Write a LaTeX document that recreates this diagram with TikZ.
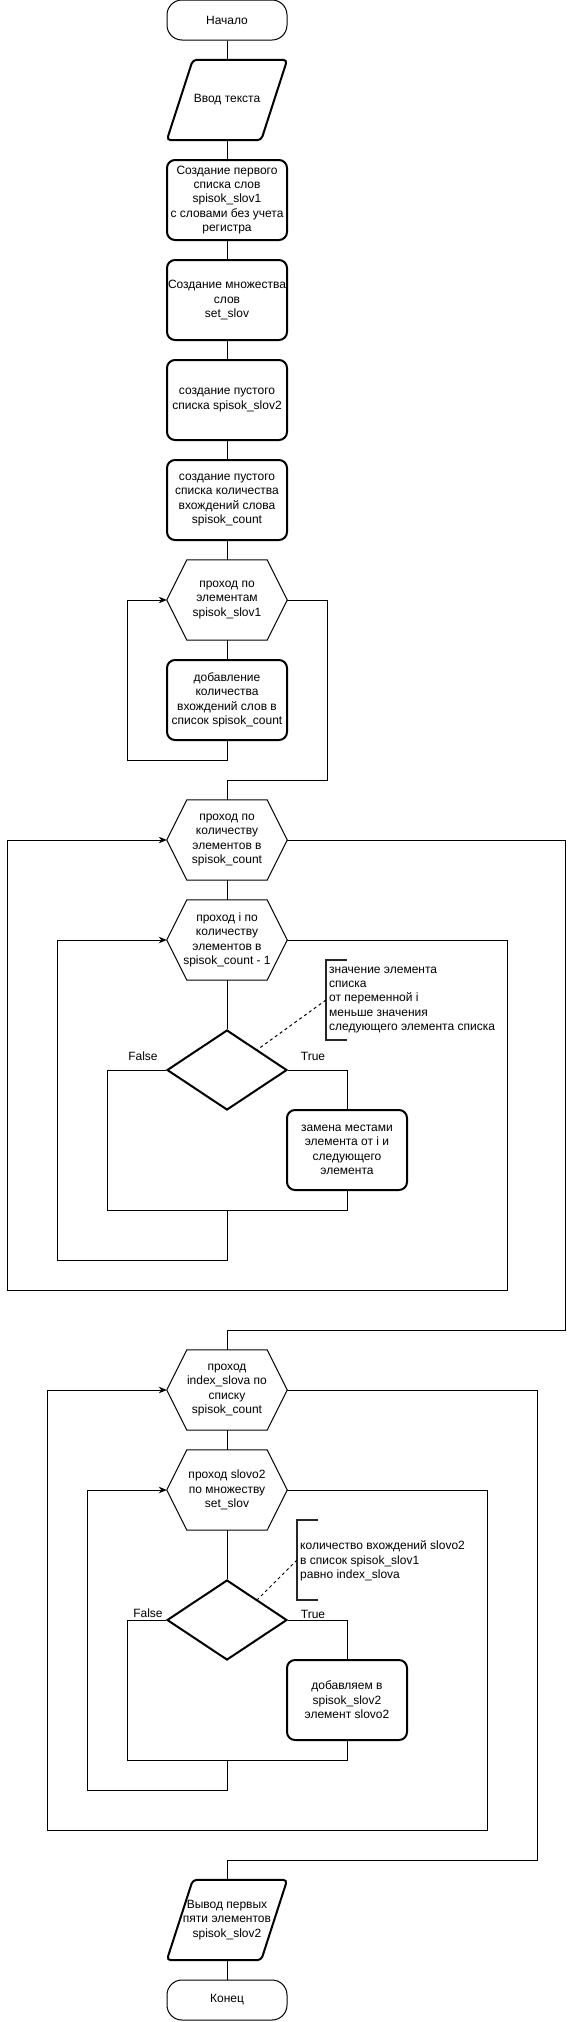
\documentclass[tikz,border=0pt]{standalone}
\usepackage{fontspec}
\setmainfont{Liberation Sans}
\usetikzlibrary{shapes.geometric, arrows.meta}
\tikzset{>={Stealth[length=8pt, width=6.5pt, inset=2.5pt]}}
\tikzset{
	base/.style={font=\fontsize{12pt}{14.4pt}\selectfont, align=center, inner sep=1pt},
	termbox/.style={base, draw, line width=1pt, rounded corners=15pt,
		minimum width=120pt, minimum height=40pt},
	procbox/.style={base, draw, line width=2pt, rounded corners=8pt, inner sep=0pt,
		minimum width=120pt, minimum height=80pt},
	iobox/.style={base, inner sep=0pt, minimum width=120pt, minimum height=80pt},
	ioline/.style={line width=2pt, rounded corners=4pt},
	loopbox/.style={base, inner sep=0pt, minimum width=120pt, minimum height=80pt},
	loopline/.style={line width=1pt},
	decbox/.style={draw, line width=2pt, diamond, inner sep=0pt,
		minimum width=120pt, minimum height=80pt},
	notetext/.style={base, align=left, anchor=west},
	bracket/.style={line width=2pt, black!85},
	line/.style={line width=1pt},
}

\begin{document}
\begin{tikzpicture}[x=1pt, y=-1pt]
\useasboundingbox (0,0) rectangle (569,2022);
% blocks of the main chain
	\node[termbox] (start) at (227,20) {Начало};
	\node[iobox] (input) at (227,100) {Ввод текста};
	\node[procbox] (list1) at (227,200) {Создание первого\\списка слов\\spisok\_slov1\\с словами без учета\\регистра};
	\node[procbox] (setw) at (227,300) {Создание множества\\слов\\set\_slov};
	\node[procbox] (list2) at (227,400) {создание пустого\\списка spisok\_slov2};
	\node[procbox] (cnt) at (227,500) {создание пустого\\списка количества\\вхождений слова\\spisok\_count};
	\node[loopbox] (loopA) at (227,600) {проход по\\элементам\\spisok\_slov1};
	\node[procbox] (addcnt) at (227,700) {добавление\\количества\\вхождений слов в\\список spisok\_count};
% sorting loops
	\node[loopbox] (loopB) at (227,840) {проход по\\количеству\\элементов в\\spisok\_count};
	\node[loopbox] (loopC) at (227,940) {проход i по\\количеству\\элементов в\\spisok\_count - 1};
	\node[decbox] (cmp) at (227,1070) {};
	\node[procbox] (swap) at (347,1150) {замена местами\\элемента от i и\\следующего\\элемента};
	\node[base] (falseA) at (143,1056) {False};
	\node[base] (trueA) at (313,1056) {True};
	\coordinate (joinA) at (227,1210);
	\coordinate (brA) at (326,1000);
	\node[notetext] (noteA) at (328,1000) {значение элемента\\списка\\от переменной i\\меньше значения\\следующего элемента списка};
% selection loops
	\node[loopbox] (loopD) at (227,1390) {проход\\index\_slova по\\списку\\spisok\_count};
	\node[loopbox] (loopE) at (227,1490) {проход slovo2\\по множеству\\set\_slov};
	\node[decbox] (eq) at (227,1620) {};
	\node[procbox] (addw) at (347,1700) {добавляем в\\spisok\_slov2\\элемент slovo2};
	\node[base] (falseB) at (148,1613) {False};
	\node[base] (trueB) at (313,1614) {True};
	\coordinate (joinB) at (227,1760);
	\coordinate (brB) at (297,1560);
	\node[notetext] (noteB) at (299,1561) {количество вхождений slovo2\\в список spisok\_slov1\\равно index\_slova};
% output
	\node[iobox] (output) at (227,1920) {Вывод первых\\пяти элементов\\spisok\_slov2};
	\node[termbox] (stop) at (227,2000) {Конец};

% hexagon and parallelogram outlines
	\foreach \h in {loopA, loopB, loopC, loopD, loopE}
		\draw[loopline] (\h.west) -- ([xshift=20pt]\h.north west) -- ([xshift=-20pt]\h.north east)
			-- (\h.east) -- ([xshift=-20pt]\h.south east) -- ([xshift=20pt]\h.south west) -- cycle;
	\foreach \p in {input, output}
		\draw[ioline] ([xshift=26pt]\p.north west) -- (\p.north east)
			-- ([xshift=-26pt]\p.south east) -- (\p.south west) -- cycle;

% connectors
	\draw[line] (start) -- (input);
	\draw[line] (input) -- (list1);
	\draw[line] (list1) -- (setw);
	\draw[line] (setw) -- (list2);
	\draw[line] (list2) -- (cnt);
	\draw[line] (cnt) -- (loopA);
	\draw[line] (loopA) -- (addcnt);
	\draw[line, ->] (addcnt.south) |- (127,760) |- (loopA.west);
	\draw[line] (loopA.east) -| (327,780) -| (loopB.north);

	\draw[line] (loopB) -- (loopC);
	\draw[line] (loopC) -- (cmp);
	\draw[line] (cmp.west) -| (107,1210) -- (joinA);
	\draw[line] (cmp.east) -| (swap.north);
	\draw[line] (swap.south) |- (joinA);
	\draw[line, ->] (joinA) |- (57,1260) |- (loopC.west);
	\draw[line, ->] (loopC.east) -| (507,1290) -| (7,840) -- (loopB.west);
	\draw[line] (loopB.east) -| (565,1330) -| (loopD.north);
	\draw[bracket] (brA) ++(21,-40) -- ++(-21,0) -- ++(0,80) -- ++(21,0);
	\draw[line, dash pattern=on 3pt off 3pt] (brA) -- (cmp.north east);

	\draw[line] (loopD) -- (loopE);
	\draw[line] (loopE) -- (eq);
	\draw[line] (eq.west) -| (127,1760) -- (joinB);
	\draw[line] (eq.east) -| (addw.north);
	\draw[line] (addw.south) |- (joinB);
	\draw[line, ->] (joinB) |- (87,1790) |- (loopE.west);
	\draw[line, ->] (loopE.east) -| (487,1830) -| (47,1390) -- (loopD.west);
	\draw[line] (loopD.east) -| (537,1860) -| (output.north);
	\draw[bracket] (brB) ++(21,-40) -- ++(-21,0) -- ++(0,80) -- ++(21,0);
	\draw[line, dash pattern=on 3pt off 3pt] (brB) -- (eq.north east);

	\draw[line] (output) -- (stop);
\end{tikzpicture}
\end{document}
